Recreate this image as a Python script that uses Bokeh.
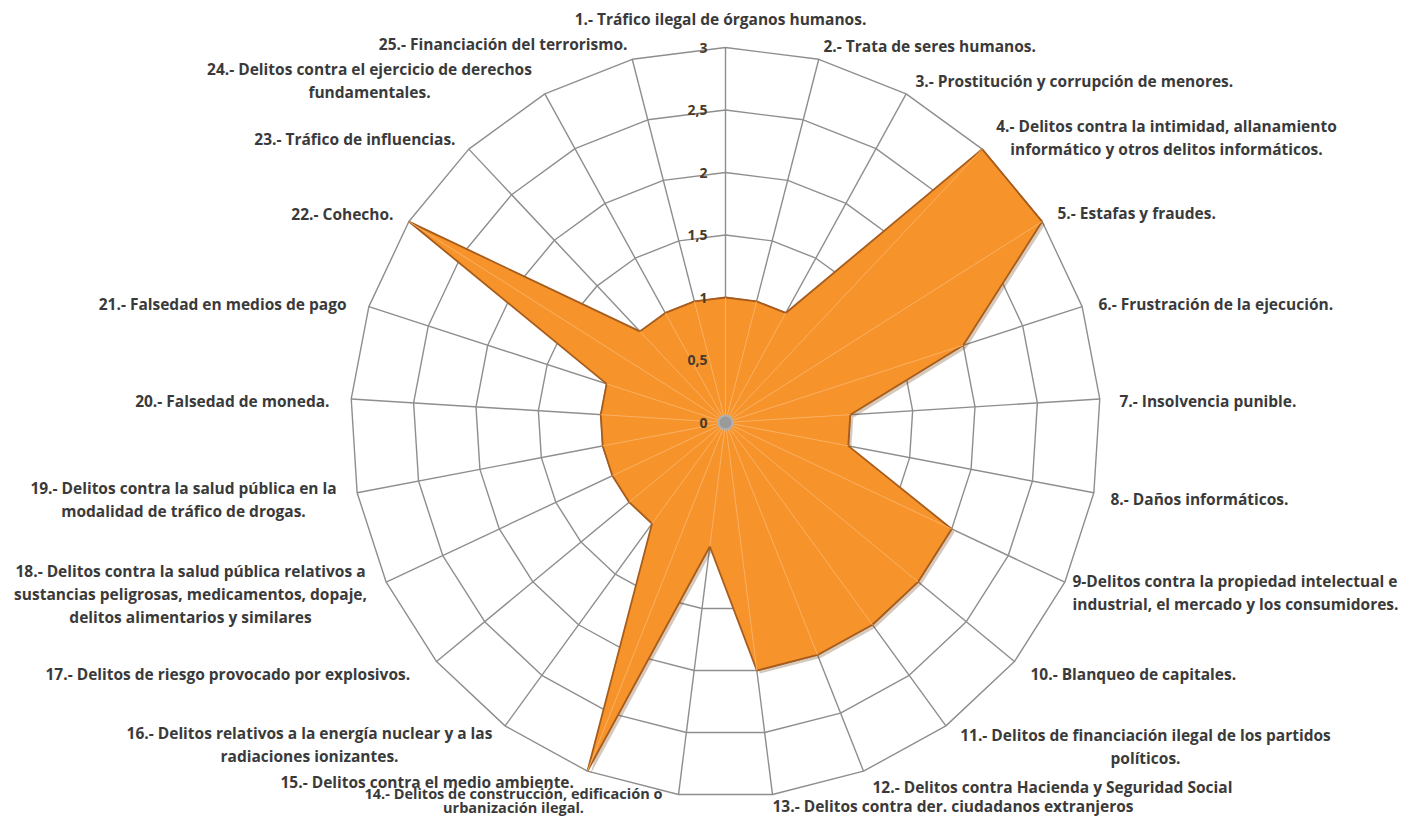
import numpy as np
from bokeh.plotting import figure
from bokeh.models import Range1d
from bokeh.core.properties import value
from bokeh.embed import file_html
from bokeh.resources import INLINE

# ---------------- data ----------------
categories = [
    "1.- Tráfico ilegal de órganos humanos.",
    "2.- Trata de seres humanos.",
    "3.- Prostitución y corrupción de menores.",
    "4.- Delitos contra la intimidad, allanamiento\ninformático y otros delitos informáticos.",
    "5.- Estafas y fraudes.",
    "6.- Frustración de la ejecución.",
    "7.- Insolvencia punible.",
    "8.- Daños informáticos.",
    "9-Delitos contra la propiedad intelectual e\nindustrial, el mercado y los consumidores.",
    "10.- Blanqueo de capitales.",
    "11.- Delitos de financiación ilegal de los partidos\npolíticos.",
    "12.- Delitos contra Hacienda y Seguridad Social",
    "13.- Delitos contra  der.  ciudadanos extranjeros",
    "14.- Delitos de construcción, edificación o\nurbanización ilegal.",
    "15.- Delitos contra el medio ambiente.",
    "16.- Delitos relativos a la energía nuclear y a las\nradiaciones ionizantes.",
    "17.- Delitos de riesgo provocado por explosivos.",
    "18.- Delitos contra la salud pública relativos a\nsustancias peligrosas, medicamentos, dopaje,\ndelitos alimentarios y similares",
    "19.- Delitos contra la salud pública en la\nmodalidad de tráfico de drogas.",
    "20.- Falsedad de moneda.",
    "21.- Falsedad en medios de pago",
    "22.- Cohecho.",
    "23.- Tráfico de influencias.",
    "24.- Delitos contra el ejercicio de derechos\nfundamentales.",
    "25.- Financiación del terrorismo.",
]
values = [1, 1, 1, 3, 3, 2, 1, 1, 2, 2, 2, 2, 2, 1, 3, 1, 1, 1, 1, 1, 1, 3, 1, 1, 1]
ring_values = [0.5, 1, 1.5, 2, 2.5, 3]
tick_values = [0, 0.5, 1, 1.5, 2, 2.5, 3]
tick_labels = ["0", "0,5", "1", "1,5", "2", "2,5", "3"]

# ---------------- layout (pixels) ----------------
W, H = 1400, 817
CX, CY = 725, 422        # centre
PX = 125.0               # pixels per unit value

def to_data(px, py):
    return (px - CX) / PX, (CY - py) / PX

# label anchor (px): x, y of first line, alignment, font size
label_layout = [
    (720, 18, "center", 15.5), (823, 45, "left", 15.5), (915, 80, "left", 15.5),
    (1166, 125, "center", 15.5), (1057, 212, "left", 15.5), (1098, 303, "left", 15.5),
    (1119, 400, "left", 15.5), (1110, 498, "left", 15.5), (1072, 580, "left", 15.5),
    (1030, 673, "left", 15.5), (1145, 734, "center", 15.5), (872, 786, "left", 15.5),
    (772, 805, "left", 15.5), (513, 793, "center", 14.5), (280, 781, "left", 15.5),
    (309, 732, "center", 15.5), (45, 673, "left", 15.5), (190, 570, "center", 15.5),
    (183, 487, "center", 15.5), (329, 400, "right", 15.5), (346, 303, "right", 15.5),
    (393, 213, "right", 15.5), (455, 138, "right", 15.5), (369, 68, "center", 15.5),
    (627, 43, "right", 15.5),
]
LINE_GAP = {13: 14}
DEFAULT_GAP = 23
FONT = "Open Sans"

n = len(categories)
ang = np.pi / 2 - np.arange(n) * 2 * np.pi / n   # clockwise from top

p = figure(width=W, height=H, output_backend="svg", toolbar_location=None,
           x_axis_type=None, y_axis_type=None, min_border=0,
           x_range=Range1d(-CX / PX, (W - CX) / PX),
           y_range=Range1d(-(H - CY) / PX, CY / PX))
p.grid.visible = False
p.outline_line_color = None
p.background_fill_color = "white"
p.border_fill_color = "white"

GRID = "#8e8e8e"
# rings
for r in ring_values:
    xs = list(r * np.cos(ang)) + [r * np.cos(ang[0])]
    ys = list(r * np.sin(ang)) + [r * np.sin(ang[0])]
    p.line(xs, ys, line_color=GRID, line_width=1.4)
# spokes
rmax = max(ring_values)
p.segment(x0=[0] * n, y0=[0] * n, x1=list(rmax * np.cos(ang)), y1=list(rmax * np.sin(ang)),
          line_color=GRID, line_width=1.4)

# data polygon
vx = np.array(values) * np.cos(ang)
vy = np.array(values) * np.sin(ang)
sh = 3 / PX
p.patch(list(vx + sh), list(vy - sh), fill_color="#6b3d10", fill_alpha=0.28, line_color=None)
p.patch(list(vx), list(vy), fill_color="#F6932A", fill_alpha=1.0,
        line_color="#a85c1c", line_width=1.8)
# spokes visible through the fill
p.segment(x0=[0] * n, y0=[0] * n, x1=list(vx), y1=list(vy),
          line_color="#f9b46a", line_width=1.0, line_alpha=0.9)

# centre dot
p.scatter([0], [0], size=14, fill_color="#9a9a9a", line_color="#b0b0b0", line_width=2)

# value ticks
tx = [(707 - CX) / PX] * len(tick_values)
p.text(tx, tick_values, text=tick_labels, text_align="right", text_baseline="middle",
       text_font=value(FONT), text_font_style="bold", text_font_size="14px",
       text_color="#4a3a2a")

# category labels
for i, (lab, (lx, ly, al, fs)) in enumerate(zip(categories, label_layout)):
    gap = LINE_GAP.get(i, DEFAULT_GAP)
    for j, line in enumerate(lab.split("\n")):
        dx, dy = to_data(lx, ly + j * gap)
        p.text([dx], [dy], text=[line], text_align=al, text_baseline="middle",
               text_font=value(FONT), text_font_style="bold", text_font_size=f"{fs}px",
               text_color="#3a3a3a")

open("out.html", "w").write(file_html(p, INLINE))
